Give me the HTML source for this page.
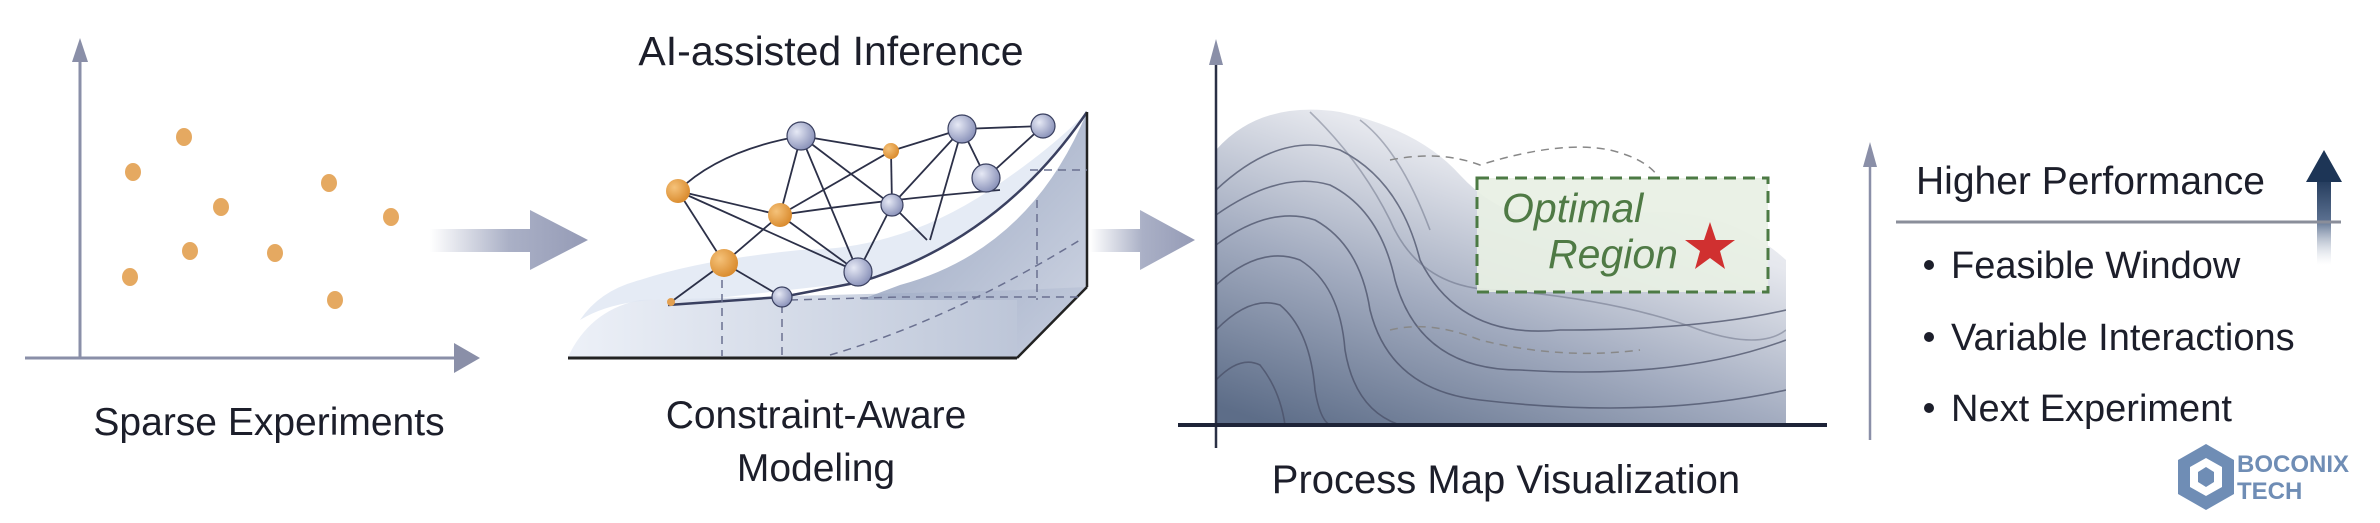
<!DOCTYPE html>
<html><head><style>
html,body{margin:0;padding:0;background:#fff;}
body{width:2380px;height:523px;overflow:hidden;position:relative;font-family:"Liberation Sans",sans-serif;color:#1c1e2a;}
</style></head><body>
<svg width="2380" height="523" viewBox="0 0 2380 523" xmlns="http://www.w3.org/2000/svg" style="position:absolute;left:0;top:0">
<defs>
<radialGradient id="og" cx="0.35" cy="0.35" r="0.7"><stop offset="0" stop-color="#f5c27a"/><stop offset="1" stop-color="#d98a2c"/></radialGradient>
<radialGradient id="bg" cx="0.35" cy="0.35" r="0.7"><stop offset="0" stop-color="#e6e9f5"/><stop offset="1" stop-color="#8890b8"/></radialGradient>
<linearGradient id="arr" x1="0" x2="1"><stop offset="0" stop-color="#aab0c6" stop-opacity="0"/><stop offset="0.5" stop-color="#aab0c6"/><stop offset="1" stop-color="#959bb6"/></linearGradient>
<linearGradient id="wall" x1="0" x2="1" y1="0" y2="1"><stop offset="0" stop-color="#7f8fb0"/><stop offset="1" stop-color="#c9d0e0"/></linearGradient>
<linearGradient id="floor" x1="0" x2="1"><stop offset="0" stop-color="#e8edf6"/><stop offset="1" stop-color="#a3afc8"/></linearGradient>
<linearGradient id="map" x1="0.1" x2="0.7" y1="1" y2="0"><stop offset="0" stop-color="#5d6d88"/><stop offset="0.4" stop-color="#a3acc0"/><stop offset="0.75" stop-color="#e6e8ee"/><stop offset="1" stop-color="#f7f8fa"/></linearGradient>
<linearGradient id="up" x1="0" x2="0" y1="0" y2="1"><stop offset="0" stop-color="#1d3556"/><stop offset="0.5" stop-color="#5a6f8f"/><stop offset="1" stop-color="#c9d0dc" stop-opacity="0"/></linearGradient>
<clipPath id="mc"><path d="M1216 425 L1216 150 Q1260 100 1340 112 Q1420 130 1460 175 Q1520 240 1620 215 Q1720 200 1786 260 L1786 425 Z"/></clipPath>
</defs>

<!-- Panel 1 -->
<line x1="80" y1="60" x2="80" y2="358" stroke="#8a8fa8" stroke-width="3"/>
<polygon points="80,38 72,62 88,62" fill="#8a8fa8"/>
<line x1="25" y1="358" x2="460" y2="358" stroke="#8a8fa8" stroke-width="3"/>
<polygon points="480,358 454,343 454,373" fill="#8a8fa8"/>
<g fill="#e3a050" opacity="0.9">
<ellipse cx="184" cy="137" rx="8" ry="9"/><ellipse cx="133" cy="172" rx="8" ry="9"/><ellipse cx="329" cy="183" rx="8" ry="9"/><ellipse cx="221" cy="207" rx="8" ry="9"/><ellipse cx="391" cy="217" rx="8" ry="9"/><ellipse cx="190" cy="251" rx="8" ry="9"/><ellipse cx="275" cy="253" rx="8" ry="9"/><ellipse cx="130" cy="277" rx="8" ry="9"/><ellipse cx="335" cy="300" rx="8" ry="9"/>
</g>
<text x="269" y="435" font-size="39" text-anchor="middle" fill="#1c1e2a">Sparse Experiments</text>

<!-- Arrow 1 -->
<path d="M430 229 L530 229 L530 210 L588 240 L530 270 L530 252 L430 252 Z" fill="url(#arr)"/>

<!-- Panel 2 -->
<text x="831" y="65" font-size="41" text-anchor="middle" fill="#1c1e2a">AI-assisted Inference</text>
<path d="M568 357 Q590 310 640 300 L1020 290 L1087 287 L1017 357 Z" fill="url(#floor)" opacity="0.8"/>
<path d="M1017 357 L1087 287 L1087 112 Q1030 250 900 285 L860 300 L1017 300 Z" fill="url(#wall)" opacity="0.85"/>
<path d="M580 320 Q620 295 700 300 L860 282 Q1000 240 1087 112 Q1050 150 990 190 Q900 250 800 250 Q700 260 640 280 Q600 290 580 320 Z" fill="#dfe6f2" opacity="0.8"/>
<path d="M668 305 L782 297 L860 282 Q1000 240 1087 112" fill="none" stroke="#3a4060" stroke-width="2.5"/>
<line x1="568" y1="358" x2="1017" y2="358" stroke="#222" stroke-width="3"/>
<line x1="1017" y1="358" x2="1087" y2="287" stroke="#222" stroke-width="2.5"/>
<line x1="1087" y1="112" x2="1087" y2="287" stroke="#222" stroke-width="2.5"/>
<g stroke="#6a7090" stroke-width="1.5" stroke-dasharray="8 6" fill="none">
<line x1="722" y1="280" x2="722" y2="356"/><line x1="782" y1="305" x2="782" y2="356"/><line x1="1037" y1="200" x2="1037" y2="300"/>
<path d="M830 355 Q950 320 1080 240"/><path d="M790 300 L900 297 L1080 297"/><path d="M1030 170 L1087 170"/>
</g>
<g stroke="#2c3048" stroke-width="1.8" fill="none">
<path d="M678 191 Q720 150 801 136"/><line x1="801" y1="136" x2="891" y2="151"/><line x1="891" y1="151" x2="962" y2="129"/><line x1="962" y1="129" x2="1043" y2="126"/>
<line x1="678" y1="191" x2="780" y2="215"/><line x1="678" y1="191" x2="724" y2="263"/><line x1="678" y1="191" x2="858" y2="272"/>
<line x1="801" y1="136" x2="780" y2="215"/><line x1="801" y1="136" x2="858" y2="272"/><line x1="801" y1="136" x2="892" y2="205"/>
<line x1="780" y1="215" x2="724" y2="263"/><line x1="780" y1="215" x2="858" y2="272"/><line x1="780" y1="215" x2="891" y2="151"/><path d="M780 215 Q880 200 1000 190"/>
<line x1="891" y1="151" x2="892" y2="205"/><line x1="892" y1="205" x2="858" y2="272"/><line x1="892" y1="205" x2="927" y2="240"/>
<line x1="962" y1="129" x2="892" y2="205"/><line x1="962" y1="129" x2="986" y2="178"/><line x1="962" y1="129" x2="930" y2="240"/>
<line x1="1043" y1="126" x2="986" y2="178"/><line x1="724" y1="263" x2="782" y2="297"/><line x1="724" y1="263" x2="671" y2="302"/>
</g>
<g stroke="#3a4060" stroke-width="1.2">
<circle cx="801" cy="136" r="14" fill="url(#bg)"/><circle cx="962" cy="129" r="14" fill="url(#bg)"/><circle cx="1043" cy="126" r="12" fill="url(#bg)"/>
<circle cx="986" cy="178" r="14" fill="url(#bg)"/><circle cx="892" cy="205" r="11" fill="url(#bg)"/><circle cx="858" cy="272" r="14" fill="url(#bg)"/><circle cx="782" cy="297" r="10" fill="url(#bg)"/>
</g>
<g>
<circle cx="678" cy="191" r="12" fill="url(#og)"/><circle cx="780" cy="215" r="12" fill="url(#og)"/><circle cx="724" cy="263" r="14" fill="url(#og)"/><circle cx="891" cy="151" r="8" fill="url(#og)"/><circle cx="671" cy="302" r="4" fill="#e3a050"/>
</g>
<text x="816" y="428" font-size="39" text-anchor="middle" fill="#1c1e2a">Constraint-Aware</text>
<text x="816" y="481" font-size="39" text-anchor="middle" fill="#1c1e2a">Modeling</text>

<!-- Arrow 2 -->
<path d="M1090 229 L1140 229 L1140 210 L1195 240 L1140 270 L1140 252 L1090 252 Z" fill="url(#arr)"/>

<!-- Panel 3 -->
<rect x="1216" y="100" width="570" height="325" fill="url(#map)" clip-path="url(#mc)"/>
<g clip-path="url(#mc)" fill="none" stroke="#4a5068" stroke-width="1.6" opacity="0.75">
<path d="M1216 190 Q1280 130 1340 150 Q1400 180 1420 260 Q1460 340 1560 330 Q1700 330 1786 310"/>
<path d="M1216 215 Q1280 170 1330 185 Q1380 210 1395 280 Q1420 370 1520 370 Q1680 380 1786 340"/>
<path d="M1216 245 Q1270 205 1315 220 Q1360 245 1370 310 Q1390 390 1480 400 Q1650 420 1786 390"/>
<path d="M1216 285 Q1260 245 1300 260 Q1340 285 1345 350 Q1355 410 1400 425"/>
<path d="M1216 330 Q1250 295 1280 305 Q1310 330 1315 390 Q1320 420 1330 425"/>
<path d="M1216 380 Q1240 355 1260 365 Q1280 390 1285 425"/>
<path d="M1310 112 Q1360 160 1390 220 Q1420 290 1500 290 Q1620 300 1700 330 Q1760 350 1786 330" stroke-opacity="0.5"/>
<path d="M1360 120 Q1400 150 1430 230" stroke-opacity="0.5"/>
</g>
<path d="M1390 160 Q1440 150 1480 165 Q1560 140 1610 150 Q1650 160 1660 180" fill="none" stroke="#888" stroke-width="1.5" stroke-dasharray="8 6"/>
<path d="M1390 330 Q1430 320 1480 340 Q1560 360 1640 350" fill="none" stroke="#888" stroke-width="1.5" stroke-dasharray="8 6"/>
<line x1="1216" y1="60" x2="1216" y2="448" stroke="#2a3045" stroke-width="2.5"/>
<polygon points="1216,39 1209,65 1223,65" fill="#8a8fa8"/>
<line x1="1178" y1="425" x2="1827" y2="425" stroke="#1e2438" stroke-width="4"/>
<rect x="1477" y="178" width="291" height="114" fill="#e8f0e4" fill-opacity="0.92" stroke="#4c7a44" stroke-width="3" stroke-dasharray="12 7"/>
<text x="1502" y="222" font-size="41" font-style="italic" fill="#4f7a45">Optimal</text>
<text x="1548" y="268" font-size="41" font-style="italic" fill="#4f7a45">Region</text>
<polygon points="1710,222 1716,240 1735,240 1720,251 1725,269 1710,258 1695,269 1700,251 1685,240 1704,240" fill="#d03030"/>
<text x="1506" y="493" font-size="40" text-anchor="middle" fill="#1c1e2a">Process Map Visualization</text>

<!-- Panel 4 -->
<line x1="1870" y1="160" x2="1870" y2="440" stroke="#8a8fa8" stroke-width="2.5"/>
<polygon points="1870,142 1863,167 1877,167" fill="#8a8fa8"/>
<rect x="2317" y="175" width="14" height="90" fill="url(#up)"/>
<polygon points="2324,150 2306,182 2342,182" fill="#1d3556"/>
<text x="1916" y="194" font-size="39" fill="#1c1e2a">Higher Performance</text>
<line x1="1896" y1="222" x2="2341" y2="222" stroke="#8a8e9a" stroke-width="3"/>
<g font-size="38" fill="#1c1e2a">
<circle cx="1929" cy="265" r="5"/><text x="1951" y="278">Feasible Window</text>
<circle cx="1929" cy="337" r="5"/><text x="1951" y="350">Variable Interactions</text>
<circle cx="1929" cy="408" r="5"/><text x="1951" y="421">Next Experiment</text>
</g>
<polygon points="2206,444 2234,460 2234,494 2206,510 2178,494 2178,460" fill="#6f8db5"/>
<polygon points="2206,458 2222,467 2222,487 2206,496 2190,487 2190,467" fill="#fff"/>
<polygon points="2206,467 2214,472 2214,482 2206,487 2198,482 2198,472" fill="#6f8db5"/>
<text x="2237" y="472" font-size="24" font-weight="bold" fill="#6f8db5">BOCONIX</text>
<text x="2237" y="499" font-size="24" font-weight="bold" fill="#6f8db5">TECH</text>
</svg>
</body></html>
